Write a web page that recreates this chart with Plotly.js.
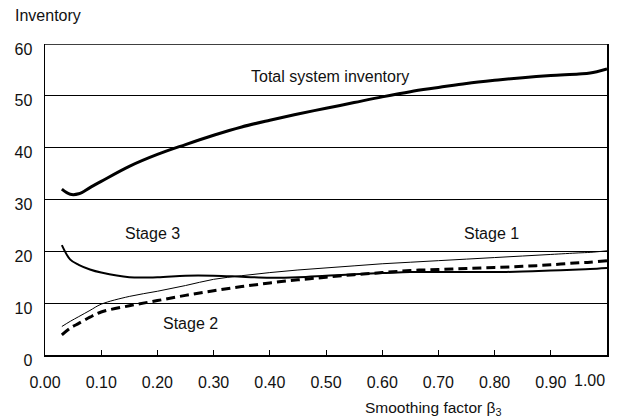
<!DOCTYPE html>
<html>
<head>
<meta charset="utf-8">
<script src="https://cdn.plot.ly/plotly-3.0.1.min.js"></script>
<style>html,body{margin:0;padding:0;background:#fff;}#chart{width:619px;height:420px;}</style>
</head>
<body>
<div id="chart"></div>
<script>
const beta = [0.03,0.045,0.06,0.08,0.10,0.15,0.20,0.25,0.30,0.35,0.40,0.45,0.50,0.55,0.60,0.65,0.70,0.75,0.80,0.85,0.90,0.95,0.97,1.00];
const totalInv = [32.0,31.0,31.1,32.3,33.5,36.4,38.7,40.6,42.4,44.0,45.3,46.5,47.6,48.7,49.8,50.8,51.6,52.4,53.0,53.5,53.9,54.2,54.4,55.2];
const stage3Inv = [21.2,18.4,17.4,16.5,15.9,15.0,15.0,15.3,15.3,15.1,14.9,15.0,15.3,15.6,15.8,16.0,16.0,16.0,16.0,16.1,16.3,16.5,16.6,16.8];
const stage1Inv = [5.5,6.5,7.4,8.6,9.8,11.3,12.3,13.4,14.6,15.3,15.9,16.4,16.8,17.2,17.6,17.9,18.2,18.5,18.8,19.1,19.4,19.7,19.8,20.1];
const stage2Inv = [3.9,5.2,6.1,7.3,8.3,9.5,10.5,11.5,12.4,13.2,13.9,14.5,15.0,15.5,15.9,16.3,16.5,16.7,16.9,17.1,17.4,17.8,17.9,18.2];

const xTickVals = [0,0.1,0.2,0.3,0.4,0.5,0.6,0.7,0.8,0.9];
const xTickText = ["0.00","0.10","0.20","0.30","0.40","0.50","0.60","0.70","0.80","0.90"];
const xLastTick = "1.00";
const yTickVals = [0,10,20,30,40,50,60];
const yTickText = ["0","10","20","30","40","50","60"];

const labels = [
  {text:"Total system inventory", x:0.507, y:53.7},
  {text:"Stage 3", x:0.191, y:23.5},
  {text:"Stage 2", x:0.259, y:6.0},
  {text:"Stage 1", x:0.795, y:23.5}
];

const font = {family:"Liberation Sans, Arial, sans-serif", size:16, color:"#111"};
const titleFont = {family:"Liberation Sans, Arial, sans-serif", size:15.5, color:"#111"};

const traces = [
  {x:beta, y:totalInv, mode:"lines", line:{color:"#000", width:3, shape:"spline"}},
  {x:beta, y:stage3Inv, mode:"lines", line:{color:"#000", width:2, shape:"spline"}},
  {x:beta, y:stage1Inv, mode:"lines", line:{color:"#000", width:1, shape:"spline"}},
  {x:beta, y:stage2Inv, mode:"lines", line:{color:"#000", width:3, shape:"spline", dash:"9px,5px"}}
];

const annotations = labels.map(l => ({text:l.text, x:l.x, y:l.y, xref:"x", yref:"y", showarrow:false, font:font}));
annotations.push({text:xLastTick, x:1, y:0, xref:"x", yref:"y", xanchor:"right", yanchor:"top", yshift:-15, showarrow:false, font:font});
annotations.push({text:"Inventory", x:-32/562, y:1, xref:"paper", yref:"paper", xanchor:"left", yanchor:"bottom", yshift:18, showarrow:false, font:font});
annotations.push({text:"Smoothing factor β<sub>3</sub>", x:0.69, y:0, xref:"paper", yref:"paper", xanchor:"center", yanchor:"middle", yshift:-53, showarrow:false, font:titleFont});

const layout = {
  width:619, height:420,
  margin:{l:45, r:12, t:44, b:65},
  paper_bgcolor:"#fff", plot_bgcolor:"#fff",
  showlegend:false,
  font:font,
  xaxis:{range:[0,1], tickvals:xTickVals, ticktext:xTickText, ticks:"inside", ticklen:5, tickcolor:"#000", tickwidth:1,
         showgrid:false, zeroline:false, showline:true, linecolor:"#000", linewidth:2, tickfont:font, ticklabelstandoff:12},
  yaxis:{range:[0,60], tickvals:yTickVals, ticktext:yTickText, ticks:"", showgrid:true, gridcolor:"#000", gridwidth:1,
         zeroline:false, showline:true, linecolor:"#000", linewidth:1.5, mirror:true, tickfont:font, ticklabelshift:5, ticklabelstandoff:8},
  shapes:[{type:"line", xref:"paper", yref:"y", x0:0, x1:1, y0:60, y1:60, line:{color:"#000", width:1.5}}],
  annotations:annotations
};

Plotly.newPlot("chart", traces, layout, {displayModeBar:false, staticPlot:true});
</script>
</body>
</html>
